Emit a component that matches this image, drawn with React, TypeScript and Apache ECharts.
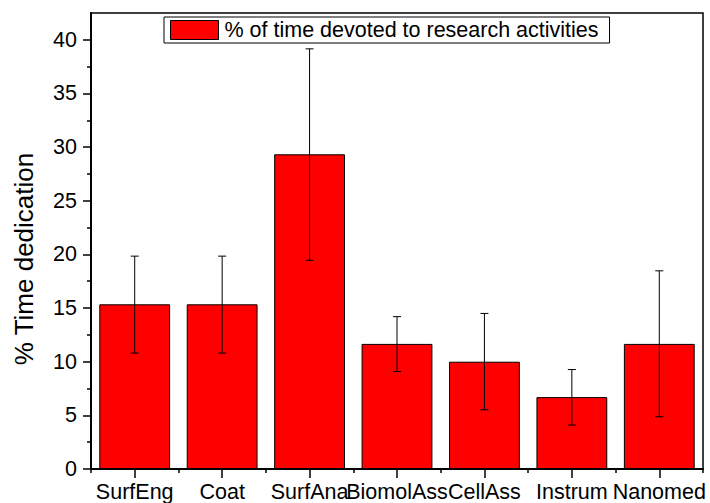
import React, { useEffect, useRef } from "react";
import * as echarts from "echarts";

const categories = ["SurfEng", "Coat", "SurfAna", "BiomolAss", "CellAss", "Instrum", "Nanomed"];
const values = [15.35, 15.35, 29.33, 11.66, 10.0, 6.7, 11.66];
const errLow = [10.8, 10.8, 19.45, 9.08, 5.52, 4.09, 4.87];
const errHigh = [19.84, 19.84, 39.16, 14.2, 14.5, 9.27, 18.47];
const yMajorTicks = [0, 5, 10, 15, 20, 25, 30, 35, 40];
const yMinorTicks = [2.5, 7.5, 12.5, 17.5, 22.5, 27.5, 32.5, 37.5];
const seriesName = "% of time devoted to research activities";
const yName = "% Time dedication";

const FONT = 'Arial, "Liberation Sans", sans-serif';

export default function App() {
  const ref = useRef<HTMLDivElement>(null);
  useEffect(() => {
    if (!ref.current) return;
    const chart = echarts.init(ref.current, undefined, { renderer: "svg" });
    const errData = categories.map((_, i) => [i, errLow[i], errHigh[i]]);
    chart.setOption({
      animation: false,
      backgroundColor: "#fff",
      textStyle: { fontFamily: FONT },
      grid: {
        left: 91,
        right: 7,
        top: 13,
        bottom: 34,
        show: true,
        borderColor: "#000",
        borderWidth: 1.5,
        backgroundColor: "transparent",
      },
      legend: {
        data: [seriesName],
        left: 164,
        top: 17,
        padding: [2, 11, 2, 6],
        itemWidth: 48,
        itemHeight: 19,
        borderColor: "#000",
        borderWidth: 1,
        borderRadius: 0,
        icon: "rect",
        itemStyle: { color: "#ff0000", borderColor: "#000", borderWidth: 1 },
        textStyle: { fontFamily: FONT, fontSize: 21.5, color: "#000", padding: [0, 0, 0, 1] },
      },
      xAxis: [
        {
          type: "category",
          data: categories,
          position: "bottom",
          axisLine: { lineStyle: { color: "#000", width: 2 } },
          axisTick: { show: true, alignWithLabel: true, length: 9, lineStyle: { color: "#000", width: 1.5 } },
          axisLabel: { fontFamily: FONT, fontSize: 21.5, color: "#000", margin: 12, interval: 0 },
          splitLine: { show: false },
        },
        {
          type: "category",
          data: categories,
          position: "bottom",
          axisLine: { show: false },
          axisTick: { show: true, length: 4, lineStyle: { color: "#000", width: 1.5 } },
          axisLabel: { show: false },
          splitLine: { show: false },
        },
      ],
      yAxis: [
        {
          type: "value",
          min: 0,
          max: 42.5,
          position: "left",
          name: yName,
          nameLocation: "middle",
          nameGap: 54,
          nameTextStyle: { fontFamily: FONT, fontSize: 26, color: "#000", padding: [0, 36, 0, 0] },
          axisLine: { show: true, lineStyle: { color: "#000", width: 2 } },
          axisTick: { show: true, length: 8, customValues: yMajorTicks, lineStyle: { color: "#000", width: 1.5 } },
          axisLabel: { fontFamily: FONT, fontSize: 21.5, color: "#000", margin: 14, customValues: yMajorTicks },
          splitLine: { show: false },
        },
        {
          type: "value",
          min: 0,
          max: 42.5,
          position: "left",
          axisLine: { show: false },
          axisTick: { show: true, length: 4, customValues: yMinorTicks, lineStyle: { color: "#000", width: 1.5 } },
          axisLabel: { show: false },
          splitLine: { show: false },
        },
      ],
      series: [
        {
          name: seriesName,
          type: "bar",
          data: values,
          xAxisIndex: 0,
          yAxisIndex: 0,
          barCategoryGap: "19%",
          itemStyle: { color: "#ff0000", borderColor: "#000", borderWidth: 1 },
        },
        {
          name: "err",
          type: "custom",
          xAxisIndex: 0,
          yAxisIndex: 0,
          data: errData,
          encode: { x: 0, y: [1, 2] },
          z: 5,
          renderItem: (params: any, api: any) => {
            const x = api.value(0);
            const lo = api.coord([x, api.value(1)]);
            const hi = api.coord([x, api.value(2)]);
            const w = 4;
            const st = { stroke: "#000", lineWidth: 1 };
            return {
              type: "group",
              children: [
                { type: "line", shape: { x1: lo[0], y1: lo[1], x2: hi[0], y2: hi[1] }, style: st },
                { type: "line", shape: { x1: lo[0] - w, y1: lo[1], x2: lo[0] + w, y2: lo[1] }, style: st },
                { type: "line", shape: { x1: hi[0] - w, y1: hi[1], x2: hi[0] + w, y2: hi[1] }, style: st },
              ],
            };
          },
        },
      ],
    });
    return () => chart.dispose();
  }, []);
  return (
    <div
      ref={ref}
      style={{ position: "fixed", left: 0, top: 0, width: 710, height: 503, background: "#fff" }}
    />
  );
}
